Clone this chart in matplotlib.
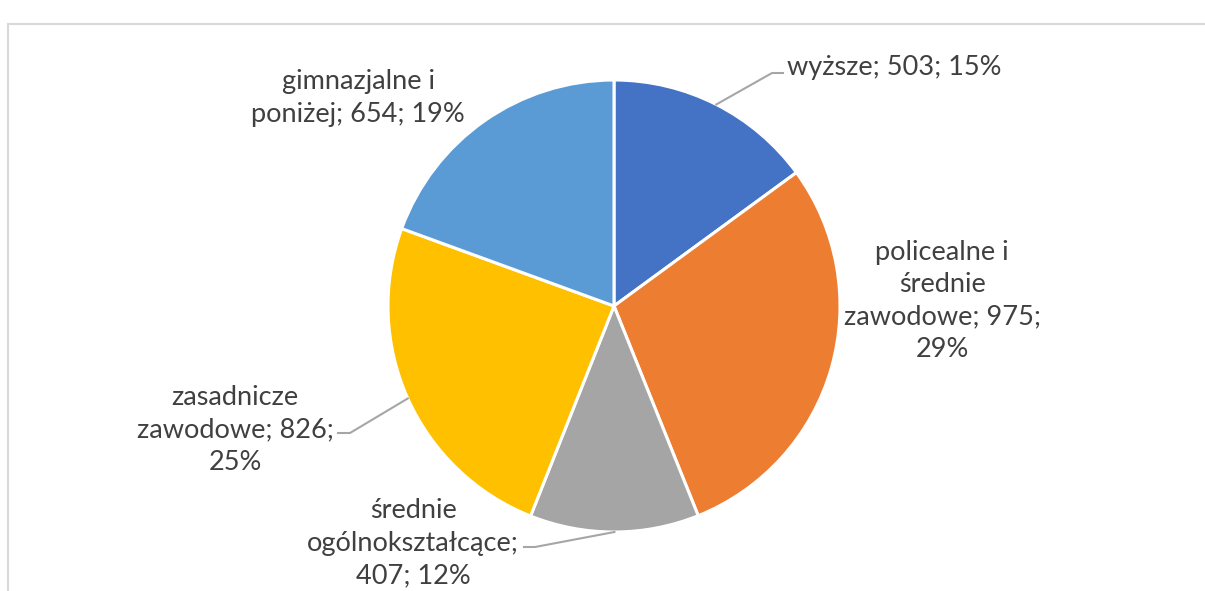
import numpy as np
import matplotlib.pyplot as plt
from matplotlib.patches import Rectangle

plt.rcParams['font.family'] = ['Lato', 'DejaVu Sans']

categories = ["wyższe", "policealne i średnie zawodowe", "średnie ogólnokształcące",
              "zasadnicze zawodowe", "gimnazjalne i poniżej"]
values = [503, 975, 407, 826, 654]
colors = ["#4472C4", "#ED7D31", "#A5A5A5", "#FFC000", "#5B9BD5"]
# label wrapping as shown on the chart
templates = ["wyższe; {v}; {p}%",
             "policealne i\nśrednie\nzawodowe; {v};\n{p}%",
             "średnie\nogólnokształcące;\n{v}; {p}%",
             "zasadnicze\nzawodowe; {v};\n{p}%",
             "gimnazjalne i\nponiżej; {v}; {p}%"]

W, H = 1205, 591
cx, cy, r = 614, 306, 226

fig = plt.figure(figsize=(W / 100, H / 100), dpi=100)
ax = fig.add_axes([0, 0, 1, 1])

def fy(y):
    return H - y

ax.pie(values, colors=colors, startangle=90, counterclock=False,
       center=(cx, fy(cy)), radius=r,
       wedgeprops=dict(edgecolor="white", linewidth=2.2))

total = sum(values)
pcts = [round(v / total * 100) for v in values]

# label position (px), alignment, leader elbow and end (px) or None
label_pos = [(787, 67, "left"), (942, 301, "center"), (413, 543, "center"),
             (235, 430, "center"), (358, 98, "center")]
leaders = [((772, 73), (783, 73)), None, ((535, 547), (524, 547)),
           ((350, 433), (338, 433)), None]

cum = 0
for i, v in enumerate(values):
    mid = 90 - (cum + v / 2) / total * 360
    cum += v
    x, y, ha = label_pos[i]
    ax.text(x, fy(y), templates[i].format(v=v, p=pcts[i]), ha=ha, va="center",
            fontsize=19.5, color="#404040", linespacing=1.38)
    if leaders[i] is not None:
        sx = cx + r * np.cos(np.radians(mid))
        sy = cy - r * np.sin(np.radians(mid))
        (ex, ey), (tx, ty) = leaders[i]
        ax.plot([sx, ex, tx], [fy(sy), fy(ey), fy(ty)], color="#A6A6A6", lw=1.5)

ax.add_patch(Rectangle((8, fy(H + 20)), W + 20, H + 8 - 12, fill=False,
                       edgecolor="#D9D9D9", lw=1.5, clip_on=False))

ax.set_xlim(0, W)
ax.set_ylim(0, H)
ax.axis("off")

fig.savefig("out.png", dpi=100, facecolor="white")
